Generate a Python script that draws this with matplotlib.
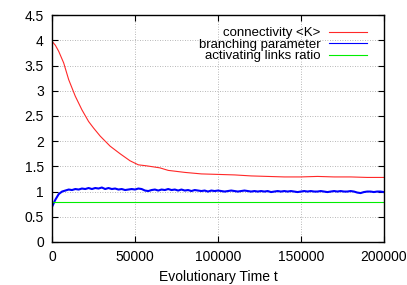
import matplotlib
matplotlib.use("Agg")
import matplotlib.pyplot as plt
import numpy as np

plt.rcParams['font.family'] = ['Liberation Sans', 'DejaVu Sans']

# connectivity <K>
t_conn = [0, 2000, 4000, 7000, 10000, 14000, 18000, 22000, 25000, 29000,
          35000, 41000, 47000, 52000, 57000, 65000, 70000, 80000, 90000,
          100000, 110000, 120000, 130000, 140000, 150000, 160000, 170000,
          180000, 190000, 200000]
conn = [3.98, 3.90, 3.78, 3.55, 3.22, 2.89, 2.62, 2.39, 2.26, 2.10,
        1.90, 1.75, 1.61, 1.53, 1.51, 1.47, 1.42, 1.38, 1.35,
        1.34, 1.33, 1.31, 1.30, 1.29, 1.29, 1.30, 1.29,
        1.29, 1.28, 1.28]

# branching parameter, sampled every 2000 steps
t_branch = np.arange(0, 200001, 2000)
branch = [0.70, 0.84, 0.95, 1.00, 1.02, 1.04, 1.03, 1.05, 1.04, 1.06,
          1.05, 1.07, 1.05, 1.07, 1.06, 1.08, 1.05, 1.07, 1.05, 1.06,
          1.04, 1.05, 1.03, 1.04, 1.05, 1.04, 1.06, 1.05, 1.02, 1.01,
          1.03, 1.04, 1.02, 1.04, 1.03, 1.05, 1.03, 1.04, 1.02, 1.04,
          1.02, 1.03, 1.01, 1.03, 1.02, 1.01, 1.02, 1.00, 1.02, 1.01,
          1.02, 1.01, 1.00, 1.01, 1.02, 1.01, 1.00, 1.01, 1.02, 1.01,
          1.00, 1.01, 1.00, 1.01, 1.00, 1.01, 0.99, 1.00, 1.01, 1.00,
          1.01, 1.00, 1.01, 1.00, 0.99, 1.00, 1.01, 1.00, 1.01, 1.00,
          1.00, 1.01, 1.00, 0.99, 1.00, 1.01, 1.00, 1.01, 1.00, 1.00,
          1.01, 1.00, 0.98, 0.97, 0.99, 1.00, 1.00, 0.99, 1.00, 1.00,
          0.99]

# activating links ratio
t_act = [0, 200000]
act = [0.79, 0.79]

xticks = [0, 50000, 100000, 150000, 200000]
yticks = [0, 0.5, 1, 1.5, 2, 2.5, 3, 3.5, 4, 4.5]

fig = plt.figure(figsize=(4.07, 2.85), dpi=100)
ax = fig.add_axes([0.128, 0.151, 0.815, 0.796])

ax.plot(t_conn, conn, color='#ff2828', lw=0.8, label='connectivity <K>')
ax.plot(t_branch, branch, color='#0000ff', lw=1.5, label='branching parameter')
ax.plot(t_act, act, color='#00ee00', lw=0.8, label='activating links ratio')

ax.set_xlim(0, 200000)
ax.set_ylim(0, 4.5)
ax.set_xticks(xticks)
ax.set_xticklabels([str(v) for v in xticks])
ax.set_yticks(yticks)
ax.set_yticklabels([f"{v:g}" for v in yticks])
ax.tick_params(direction='in', length=4, width=0.8, top=True, right=True,
               labelsize=10, pad=6)
ax.grid(True, linestyle=(0, (1, 2)), color='#a0a0a0', lw=0.6)
for s in ax.spines.values():
    s.set_linewidth(1.0)

ax.set_xlabel('Evolutionary Time t', fontsize=10, labelpad=4)

leg = ax.legend(loc='upper right', bbox_to_anchor=(0.949, 0.948),
                frameon=False, markerfirst=False, fontsize=9.5,
                handlelength=2.9, handletextpad=0.6, labelspacing=-0.05,
                borderaxespad=0, borderpad=0)
for h in leg.get_lines():
    h.set_linewidth(0.8)

fig.savefig('out.png', dpi=100)
